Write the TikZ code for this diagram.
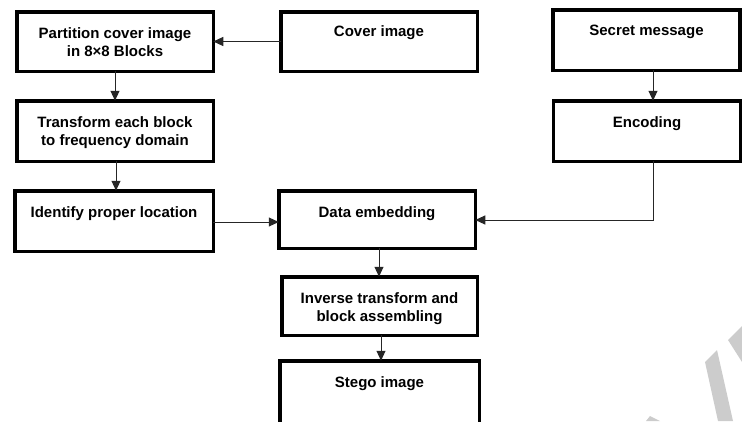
\documentclass[tikz,border=0pt]{standalone}
\usepackage{fontspec}
\setmainfont{Liberation Sans}
\usetikzlibrary{arrows.meta}
\tikzset{
  box/.style={draw=black, line width=3.5pt, rectangle, inner sep=0pt, outer sep=0pt},
  lbl/.style={inner sep=0pt, anchor=north, align=center, font=\bfseries\fontsize{15}{18}\selectfont, text=black},
  conn/.style={draw=black!85, line width=1pt, -{Triangle[length=10pt,width=9pt]}},
  wm/.style={fill=black!20, draw=none}
}
\begin{document}
\begin{tikzpicture}[x=1pt,y=-1pt]
\useasboundingbox (0,0) rectangle (742,421);
% boxes: centre and size of border centre line
\node[box, minimum width=196.5pt, minimum height=59.5pt] (A) at (115,41.5) {};
\node[box, minimum width=196.5pt, minimum height=59.5pt] (B) at (379,41.5) {};
\node[box, minimum width=187pt, minimum height=60.5pt] (C) at (646.5,40) {};
\node[box, minimum width=196.5pt, minimum height=60.5pt] (D) at (115,131) {};
\node[box, minimum width=187pt, minimum height=60.5pt] (E) at (647,131) {};
\node[box, minimum width=198.5pt, minimum height=60.5pt] (F) at (114,221) {};
\node[box, minimum width=196.5pt, minimum height=57.5pt] (G) at (377,219.5) {};
\node[box, minimum width=195.5pt, minimum height=58.5pt] (H) at (379.5,306) {};
\node[box, minimum width=199.5pt, minimum height=75pt] (I) at (379.5,398.25) {};
% labels
\node[lbl] (tA) at ([yshift=-15.75pt]A.north) {Partition cover image\\in 8×8 Blocks};
\node[lbl] (tB) at ([yshift=-14pt]B.north) {Cover image};
\node[lbl] (tC) at ([yshift=-15pt]C.north) {Secret message};
\node[lbl] (tD) at ([yshift=-15.75pt]D.north) {Transform each block\\to frequency domain};
\node[lbl] (tE) at ([yshift=-15.5pt]E.north) {Encoding};
\node[lbl] (tF) at ([yshift=-15.75pt]F.north) {Identify proper location};
\node[lbl] (tG) at ([yshift=-15.75pt]G.north) {Data embedding};
\node[lbl] (tH) at ([yshift=-15.75pt]H.north) {Inverse transform and\\block assembling};
\node[lbl] (tI) at ([yshift=-15.75pt]I.north) {Stego image};
% connectors
\coordinate (bend) at (653,220);
\draw[conn] (B.west) -- (A.east);
\draw[conn] (A.south) -- (A.south |- D.north);
\draw[conn] ([xshift=6.5pt]C.south) -- ([xshift=6.5pt]C.south |- E.north);
\draw[conn] ([xshift=1pt]D.south) -- ([xshift=1pt]D.south |- F.north);
\draw[conn] ([yshift=-1pt]F.east) -- ([yshift=-1pt]F.east -| G.west);
\draw[conn] (E.south -| bend) -- (bend) -- (bend -| G.east);
\draw[conn] ([xshift=2pt]G.south) -- ([xshift=2pt]G.south |- H.north);
\draw[conn] ([xshift=1.5pt]H.south) -- ([xshift=1.5pt]H.south |- I.north);
% watermark
\fill[wm] (705,362) -- (717,350) -- (733,421) -- (718,421) -- cycle;
\fill[wm] (728,340) -- (742,326) -- (742,362) -- cycle;
\fill[wm] (646,421) -- (650,416) -- (660,421) -- cycle;
\end{tikzpicture}
\end{document}
